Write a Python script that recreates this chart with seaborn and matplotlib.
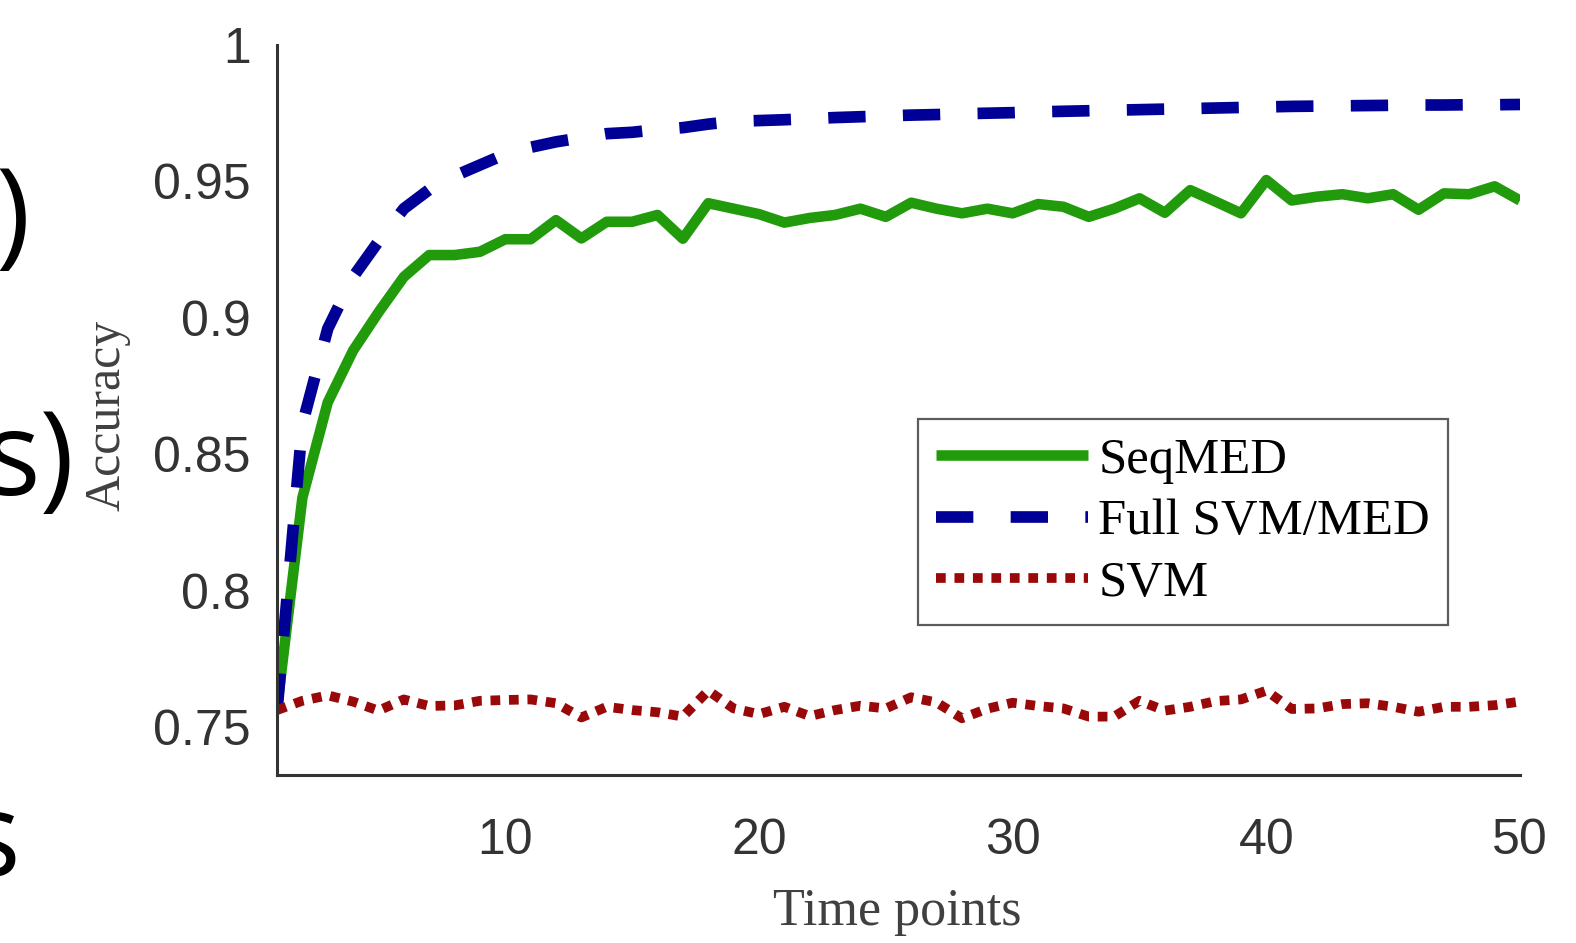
import seaborn as sns
import matplotlib.pyplot as plt
import pandas as pd

# accuracy over time points
time_points = list(range(1, 51))

seqmed = [0.757, 0.834, 0.869, 0.888, 0.902, 0.915, 0.923, 0.923, 0.9242, 0.9288,
          0.9288, 0.9358, 0.9291, 0.9352, 0.9352, 0.9377, 0.929, 0.942, 0.940, 0.938,
          0.9349, 0.9366, 0.9377, 0.940, 0.937, 0.9422, 0.940, 0.9383, 0.940, 0.9383,
          0.9417, 0.9407, 0.937, 0.940, 0.9438, 0.9385, 0.9468, 0.9426, 0.9383, 0.9505,
          0.943, 0.9444, 0.9453, 0.9438, 0.9453, 0.9396, 0.9456, 0.9453, 0.9482, 0.943]

full_svm_med = [0.756, 0.861, 0.896, 0.915, 0.928, 0.940, 0.947, 0.952, 0.956, 0.960,
                0.9625, 0.9645, 0.966, 0.9675, 0.968, 0.969, 0.9697, 0.971, 0.972, 0.9723,
                0.9726, 0.973, 0.9734, 0.9737, 0.974, 0.9743, 0.9745, 0.9748, 0.975, 0.9752,
                0.9755, 0.9757, 0.9759, 0.9761, 0.9763, 0.9765, 0.9767, 0.9769, 0.9771, 0.9773,
                0.9775, 0.9776, 0.9777, 0.9778, 0.9779, 0.978, 0.978, 0.9781, 0.9781, 0.9782]

svm = [0.7562, 0.7596, 0.7616, 0.7593, 0.7560, 0.7601, 0.7577, 0.7579, 0.7596, 0.7599,
       0.7601, 0.7587, 0.7535, 0.7574, 0.7562, 0.7554, 0.7538, 0.7633, 0.7568, 0.7547,
       0.7574, 0.7540, 0.7562, 0.7578, 0.7568, 0.7609, 0.7590, 0.7532, 0.7567, 0.7589,
       0.7577, 0.7568, 0.7538, 0.7538, 0.7596, 0.7560, 0.7574, 0.7595, 0.7601, 0.7633,
       0.7566, 0.7568, 0.7584, 0.7587, 0.7574, 0.7556, 0.7574, 0.7574, 0.7580, 0.7593]

labels = ['SeqMED', 'Full SVM/MED', 'SVM']
x_ticks = [10, 20, 30, 40, 50]
y_ticks = [0.75, 0.8, 0.85, 0.9, 0.95, 1.0]
y_tick_labels = ['0.75', '0.8', '0.85', '0.9', '0.95', '1']

df = pd.DataFrame({'t': time_points, labels[0]: seqmed,
                   labels[1]: full_svm_med, labels[2]: svm})

sns.set_theme(style='white')
plt.rcParams['font.family'] = ['Liberation Sans', 'DejaVu Sans']

W, H = 1576, 943
fig = plt.figure(figsize=(W / 100, H / 100), dpi=100)
ax = fig.add_axes([277 / W, 1 - 775 / H, 1243 / W, 730 / H])

sns.lineplot(data=df, x='t', y=labels[0], ax=ax, color='#219b0b', lw=7.6,
             label=labels[0], solid_capstyle='butt')
sns.lineplot(data=df, x='t', y=labels[1], ax=ax, color='#000096', lw=8.4,
             linestyle=(0, (3.2, 3.2)), label=labels[1])
sns.lineplot(data=df, x='t', y=labels[2], ax=ax, color='#990909', lw=7,
             linestyle=(0, (1.0, 0.9)), label=labels[2])

ax.set_xlim(1, 50)
ax.set_ylim(0.7324, 1.0)
ax.set_xticks(x_ticks)
ax.set_yticks(y_ticks)
ax.set_yticklabels(y_tick_labels)

for side in ['top', 'right']:
    ax.spines[side].set_visible(False)
for side in ['left', 'bottom']:
    ax.spines[side].set_color('#333333')
    ax.spines[side].set_linewidth(2.2)

ax.tick_params(axis='both', direction='in', length=10, width=2.2,
               colors='#333333', labelsize=36)
ax.tick_params(axis='y', pad=19)
ax.tick_params(axis='x', pad=31)

ax.set_xlabel('Time points', fontsize=37.5, family='Liberation Serif', color='#404040')
ax.set_ylabel('Accuracy', fontsize=36, family='Liberation Serif', color='#404040')
ax.xaxis.set_label_coords(0.499, -0.155)
ax.yaxis.set_label_coords(-0.1175, 0.493)

leg = ax.legend(loc='upper left', bbox_to_anchor=(0.5157, 0.4877), borderaxespad=0,
                fancybox=False, frameon=True, handlelength=3.0, handletextpad=0.2,
                labelspacing=0.3, borderpad=0.36,
                prop={'family': 'Liberation Serif', 'size': 36.5})
leg.get_frame().set_edgecolor('#333333')
leg.get_frame().set_linewidth(1.6)
for txt in leg.get_texts():
    txt.set_color('black')

# cut-off text from the neighbouring slide on the left edge
side_font = {'family': 'Open Sans', 'size': 84, 'color': 'black'}
fig.text(30 / W, 1 - 252 / H, ')', ha='right', va='baseline', fontdict=side_font)
fig.text(74 / W, 1 - 495 / H, 's)', ha='right', va='baseline', fontdict=side_font)
fig.text(20 / W, 1 - 876 / H, 's', ha='right', va='baseline', fontdict=side_font)

fig.savefig('out.png', dpi=100)
